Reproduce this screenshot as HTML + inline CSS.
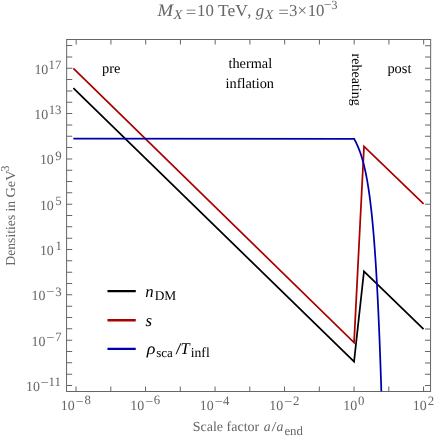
<!DOCTYPE html>
<html><head><meta charset="utf-8"><title>plot</title>
<style>html,body{margin:0;padding:0;background:#fff}svg{display:block;will-change:transform;font-family:"Liberation Serif",serif;text-rendering:geometricPrecision}</style></head>
<body><svg width="436" height="436" viewBox="0 0 436 436">
<defs><clipPath id="c"><rect x="66.6" y="39.5" width="364.0" height="352.0"/></clipPath></defs>
<rect width="436" height="436" fill="#fff"/>
<g transform="rotate(0.02 218 218)">
<rect x="66.6" y="39.5" width="364.0" height="352.0" fill="none" stroke="#666666" stroke-width="1"/>
<path d="M76.10 391.5v-5M76.10 39.5v5M110.85 391.5v-5M110.85 39.5v5M145.60 391.5v-5M145.60 39.5v5M180.35 391.5v-5M180.35 39.5v5M215.10 391.5v-5M215.10 39.5v5M249.85 391.5v-5M249.85 39.5v5M284.60 391.5v-5M284.60 39.5v5M319.35 391.5v-5M319.35 39.5v5M354.10 391.5v-5M354.10 39.5v5M388.85 391.5v-5M388.85 39.5v5M423.60 391.5v-5M423.60 39.5v5M66.6 385.51h5.6M430.6 385.51h-5.6M66.6 374.18h5.6M430.6 374.18h-5.6M66.6 362.85h5.6M430.6 362.85h-5.6M66.6 351.53h5.6M430.6 351.53h-5.6M66.6 340.20h5.6M430.6 340.20h-5.6M66.6 328.87h5.6M430.6 328.87h-5.6M66.6 317.54h5.6M430.6 317.54h-5.6M66.6 306.21h5.6M430.6 306.21h-5.6M66.6 294.88h5.6M430.6 294.88h-5.6M66.6 283.55h5.6M430.6 283.55h-5.6M66.6 272.22h5.6M430.6 272.22h-5.6M66.6 260.89h5.6M430.6 260.89h-5.6M66.6 249.56h5.6M430.6 249.56h-5.6M66.6 238.24h5.6M430.6 238.24h-5.6M66.6 226.91h5.6M430.6 226.91h-5.6M66.6 215.58h5.6M430.6 215.58h-5.6M66.6 204.25h5.6M430.6 204.25h-5.6M66.6 192.92h5.6M430.6 192.92h-5.6M66.6 181.59h5.6M430.6 181.59h-5.6M66.6 170.26h5.6M430.6 170.26h-5.6M66.6 158.93h5.6M430.6 158.93h-5.6M66.6 147.60h5.6M430.6 147.60h-5.6M66.6 136.27h5.6M430.6 136.27h-5.6M66.6 124.94h5.6M430.6 124.94h-5.6M66.6 113.62h5.6M430.6 113.62h-5.6M66.6 102.29h5.6M430.6 102.29h-5.6M66.6 90.96h5.6M430.6 90.96h-5.6M66.6 79.63h5.6M430.6 79.63h-5.6M66.6 68.30h5.6M430.6 68.30h-5.6M66.6 56.97h5.6M430.6 56.97h-5.6M66.6 45.64h5.6M430.6 45.64h-5.6" stroke="#666666" stroke-width="1" fill="none"/>
<g clip-path="url(#c)">
<polyline points="73.32,88.10 354.10,361.50 364.00,271.20 423.60,329.10" fill="none" stroke="#000000" stroke-width="1.75" stroke-linejoin="miter"/>
<polyline points="73.32,68.50 354.10,342.50 364.00,146.30 423.60,203.70" fill="none" stroke="#AA0000" stroke-width="1.75" stroke-linejoin="miter"/>
<polyline points="73.32,138.80 354.10,138.80 354.45,139.43 354.80,140.08 355.14,140.74 355.49,141.42 355.84,142.11 356.19,142.82 356.53,143.55 356.88,144.29 357.23,145.06 357.58,145.84 357.92,146.65 358.27,147.48 358.62,148.33 358.97,149.20 359.31,150.10 359.66,151.03 360.01,151.98 360.36,152.96 360.70,153.97 361.05,155.02 361.40,156.10 361.75,157.21 362.09,158.36 362.44,159.54 362.79,160.77 363.14,162.04 363.48,163.35 363.83,164.71 364.18,166.11 364.53,167.57 364.87,169.08 365.22,170.64 365.57,172.27 365.92,173.95 366.26,175.69 366.61,177.50 366.96,179.39 367.31,181.34 367.65,183.37 368.00,185.48 368.35,187.67 368.70,189.95 369.04,192.32 369.39,194.79 369.74,197.36 370.09,200.03 370.43,202.81 370.78,205.71 371.13,208.73 371.48,211.87 371.82,215.15 372.17,218.56 372.52,222.12 372.87,225.83 373.21,229.70 373.56,233.74 373.91,237.95 374.26,242.35 374.60,246.93 374.95,251.72 375.30,256.71 375.65,261.92 375.99,267.37 376.34,273.05 376.69,278.98 377.04,285.18 377.38,291.66 377.73,298.42 378.08,305.49 378.43,312.87 378.77,320.59 379.12,328.65 379.47,337.08 379.82,345.89 380.16,355.10 380.51,364.73 380.86,374.79 381.21,385.31 381.40,391.50" fill="none" stroke="#0000AA" stroke-width="1.75" stroke-linejoin="miter"/>
</g>
<line x1="107.5" x2="135.8" y1="291.1" y2="291.1" stroke="#000" stroke-width="2.3"/>
<line x1="107.5" x2="135.8" y1="320.3" y2="320.3" stroke="#AA0000" stroke-width="2.3"/>
<line x1="107.5" x2="135.8" y1="348.9" y2="348.9" stroke="#0000AA" stroke-width="2.3"/>
<text transform="translate(157.37,15.60) scale(1.07,1)" font-size="17.5" fill="#666666" font-style="italic">M</text>
<text transform="translate(173.31,18.70) scale(1.1,1)" font-size="13.4" fill="#666666" font-style="italic">X</text>
<text transform="translate(185.60,17.40) scale(1.2,1)" font-size="15.8" fill="#666666">=</text>
<text x="197.00" y="15.60" font-size="16.8" fill="#666666">10</text>
<text transform="translate(217.94,15.60) scale(1.04,1)" font-size="16.8" fill="#666666">TeV</text>
<text x="247.07" y="15.60" font-size="16.8" fill="#666666">,</text>
<text x="255.80" y="15.60" font-size="16.8" fill="#666666" font-style="italic">g</text>
<text transform="translate(264.80,18.70) scale(1.06,1)" font-size="13.4" fill="#666666" font-style="italic">X</text>
<text transform="translate(278.30,17.40) scale(1.2,1)" font-size="15.8" fill="#666666">=</text>
<text x="289.05" y="15.60" font-size="16.8" fill="#666666">3</text>
<text x="297.43" y="15.60" font-size="16.8" fill="#666666">×</text>
<text x="307.60" y="15.60" font-size="16.8" fill="#666666">10</text>
<text x="323.57" y="8.90" font-size="13.5" fill="#666666">−</text>
<text x="331.18" y="8.50" font-size="12.5" fill="#666666">3</text>
<text x="145.18" y="296.70" font-size="16.8" fill="#000" font-style="italic">n</text>
<text x="154.72" y="300.10" font-size="13.4" fill="#000">DM</text>
<text x="145.55" y="326.10" font-size="16.8" fill="#000" font-style="italic">s</text>
<text transform="translate(146.91,354.50) scale(1.1,1)" font-size="16.4" fill="#000" font-style="italic">ρ</text>
<text x="156.20" y="356.80" font-size="13" fill="#000">sca</text>
<text transform="translate(175.60,354.50) scale(1.3,1)" font-size="16.4" fill="#000">/</text>
<text x="180.47" y="354.50" font-size="16.4" fill="#000" font-style="italic">T</text>
<text x="190.75" y="357.50" font-size="13.7" fill="#000">infl</text>
<text x="101.95" y="72.80" font-size="14.4" fill="#000">pre</text>
<text x="228.40" y="68.00" font-size="14.3" fill="#000">thermal</text>
<text x="225.50" y="87.70" font-size="14.3" fill="#000">inflation</text>
<text x="387.35" y="72.50" font-size="14.4" fill="#000">post</text>
<text x="34.33" y="73.80" font-size="13.9" fill="#666666">10</text>
<text x="48.52" y="69.00" font-size="12.8" fill="#666666">17</text>
<text x="34.33" y="119.12" font-size="13.9" fill="#666666">10</text>
<text x="48.65" y="114.32" font-size="12.8" fill="#666666">13</text>
<text x="39.92" y="164.43" font-size="13.9" fill="#666666">10</text>
<text x="55.23" y="159.63" font-size="12.8" fill="#666666">9</text>
<text x="39.92" y="209.75" font-size="13.9" fill="#666666">10</text>
<text x="55.23" y="204.95" font-size="12.8" fill="#666666">5</text>
<text x="39.92" y="255.06" font-size="13.9" fill="#666666">10</text>
<text x="55.48" y="250.26" font-size="12.8" fill="#666666">1</text>
<text x="31.62" y="300.38" font-size="13.9" fill="#666666">10</text>
<text transform="translate(46.33,296.43) scale(1.08,1)" font-size="13.5" fill="#666666">−</text>
<text x="55.33" y="295.58" font-size="12.8" fill="#666666">3</text>
<text x="31.62" y="345.70" font-size="13.9" fill="#666666">10</text>
<text transform="translate(46.33,341.75) scale(1.08,1)" font-size="13.5" fill="#666666">−</text>
<text x="55.20" y="340.90" font-size="12.8" fill="#666666">7</text>
<text x="26.02" y="391.01" font-size="13.9" fill="#666666">10</text>
<text transform="translate(40.53,387.06) scale(1.08,1)" font-size="13.5" fill="#666666">−</text>
<text x="48.67" y="386.21" font-size="12.8" fill="#666666">11</text>
<text x="60.95" y="409.80" font-size="13.9" fill="#666666">10</text>
<text transform="translate(75.94,405.60) scale(1.05,1)" font-size="13.5" fill="#666666">−</text>
<text x="84.53" y="404.50" font-size="12.8" fill="#666666">8</text>
<text x="130.45" y="409.80" font-size="13.9" fill="#666666">10</text>
<text transform="translate(145.44,405.60) scale(1.05,1)" font-size="13.5" fill="#666666">−</text>
<text x="153.90" y="404.50" font-size="12.8" fill="#666666">6</text>
<text x="199.95" y="409.80" font-size="13.9" fill="#666666">10</text>
<text transform="translate(214.94,405.60) scale(1.05,1)" font-size="13.5" fill="#666666">−</text>
<text x="223.15" y="404.50" font-size="12.8" fill="#666666">4</text>
<text x="269.45" y="409.80" font-size="13.9" fill="#666666">10</text>
<text transform="translate(284.44,405.60) scale(1.05,1)" font-size="13.5" fill="#666666">−</text>
<text x="293.15" y="404.50" font-size="12.8" fill="#666666">2</text>
<text x="343.25" y="409.80" font-size="13.9" fill="#666666">10</text>
<text x="358.12" y="404.50" font-size="12.8" fill="#666666">0</text>
<text x="412.75" y="409.80" font-size="13.9" fill="#666666">10</text>
<text x="427.75" y="404.50" font-size="12.8" fill="#666666">2</text>
<text transform="translate(192.71,431.00) scale(1.017,1)" font-size="13.8" fill="#666666">Scale factor</text>
<text x="263.73" y="431.00" font-size="13.8" fill="#666666" font-style="italic">a</text>
<text transform="translate(271.60,431.00) scale(1.3,1)" font-size="13.8" fill="#666666">/</text>
<text x="276.62" y="431.00" font-size="13.8" fill="#666666" font-style="italic">a</text>
<text x="284.50" y="434.70" font-size="12.8" fill="#666666">end</text>
<text transform="translate(352.00,53.55) rotate(90)" font-size="14" fill="#000">reheating</text>
<text transform="translate(15.20,265.77) rotate(-90)" font-size="13.7" fill="#666666">Densities</text>
<text transform="translate(15.20,211.65) rotate(-90)" font-size="13.7" fill="#666666">in</text>
<text transform="translate(15.20,197.66) rotate(-90) scale(1.05,1)" font-size="13.7" fill="#666666">GeV</text>
<text transform="translate(8.50,171.62) rotate(-90)" font-size="12" fill="#666666">3</text>
</g>
</svg></body></html>
